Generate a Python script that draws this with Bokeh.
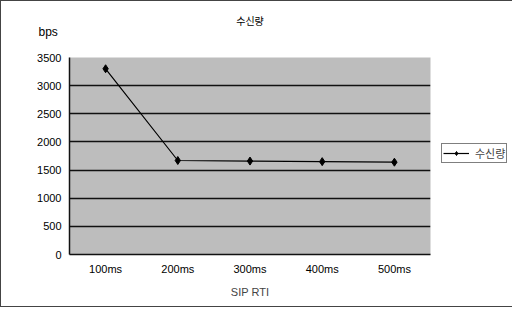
from bokeh.plotting import figure
from bokeh.models import Legend, LegendItem, FixedTicker, ColumnDataSource, Range1d, Title
from bokeh.embed import file_html
from bokeh.resources import INLINE

categories = ["100ms", "200ms", "300ms", "400ms", "500ms"]
values = [3300, 1670, 1660, 1650, 1640]
y_ticks = [0, 500, 1000, 1500, 2000, 2500, 3000, 3500]
title_text = "수신량"
series_name = "수신량"
y_unit = "bps"
x_title = "SIP RTI"

src = ColumnDataSource(dict(x=categories, y=values))

p = figure(frame_width=361, frame_height=197, x_range=categories, y_range=Range1d(0, 3500),
           output_backend="svg", toolbar_location=None, title=None,
           min_border_left=68, min_border_right=79, min_border_top=56, min_border_bottom=52)
p.x_range.range_padding = 0
p.background_fill_color = "#bdbdbd"
p.border_fill_color = "white"
p.outline_line_color = None
p.styles = {"border": "1px solid #444"}

p.yaxis.ticker = FixedTicker(ticks=y_ticks)
p.ygrid.ticker = FixedTicker(ticks=y_ticks[1:-1])
p.ygrid.grid_line_color = "#111111"
p.ygrid.grid_line_width = 1.5
p.xgrid.grid_line_color = None

for ax in (p.xaxis[0], p.yaxis[0]):
    ax.axis_line_color = "#111111"
    ax.axis_line_width = 1.5
    ax.major_tick_line_color = None
    ax.minor_tick_line_color = None
    ax.major_label_text_font = "Liberation Sans"
    ax.major_label_text_font_size = "11px"
    ax.major_label_text_color = "black"
p.yaxis.major_label_standoff = 2
p.xaxis.major_label_standoff = 2
p.xaxis.axis_label = x_title
p.xaxis.axis_label_text_font = "Liberation Sans"
p.xaxis.axis_label_text_font_style = "normal"
p.xaxis.axis_label_text_font_size = "11px"
p.xaxis.axis_label_standoff = 8

line = p.line("x", "y", source=src, line_color="black", line_width=1.2)
pts = p.scatter("x", "y", source=src, marker="diamond", size=8, fill_color="black", line_color="black")

p.add_layout(Title(text=y_unit, align="left", offset=-31, standoff=38,
                   text_font="Liberation Sans", text_font_size="12px",
                   text_font_style="normal", text_color="black"), "above")
p.add_layout(Title(text=title_text, align="center", offset=7, standoff=-48,
                   text_font="Noto Sans CJK KR", text_font_size="10px",
                   text_font_style="normal", text_color="black"), "above")

legend = Legend(items=[LegendItem(label=series_name, renderers=[line, pts])],
                location=(11, 91), margin=0, padding=1, spacing=0,
                glyph_width=26, glyph_height=10, label_standoff=6,
                label_text_font="Noto Sans CJK KR", label_text_font_size="11px",
                label_height=10, border_line_color="black", border_line_width=1.3,
                background_fill_color="white", background_fill_alpha=1)
p.add_layout(legend, "right")

open("out.html", "w").write(file_html(p, INLINE))
